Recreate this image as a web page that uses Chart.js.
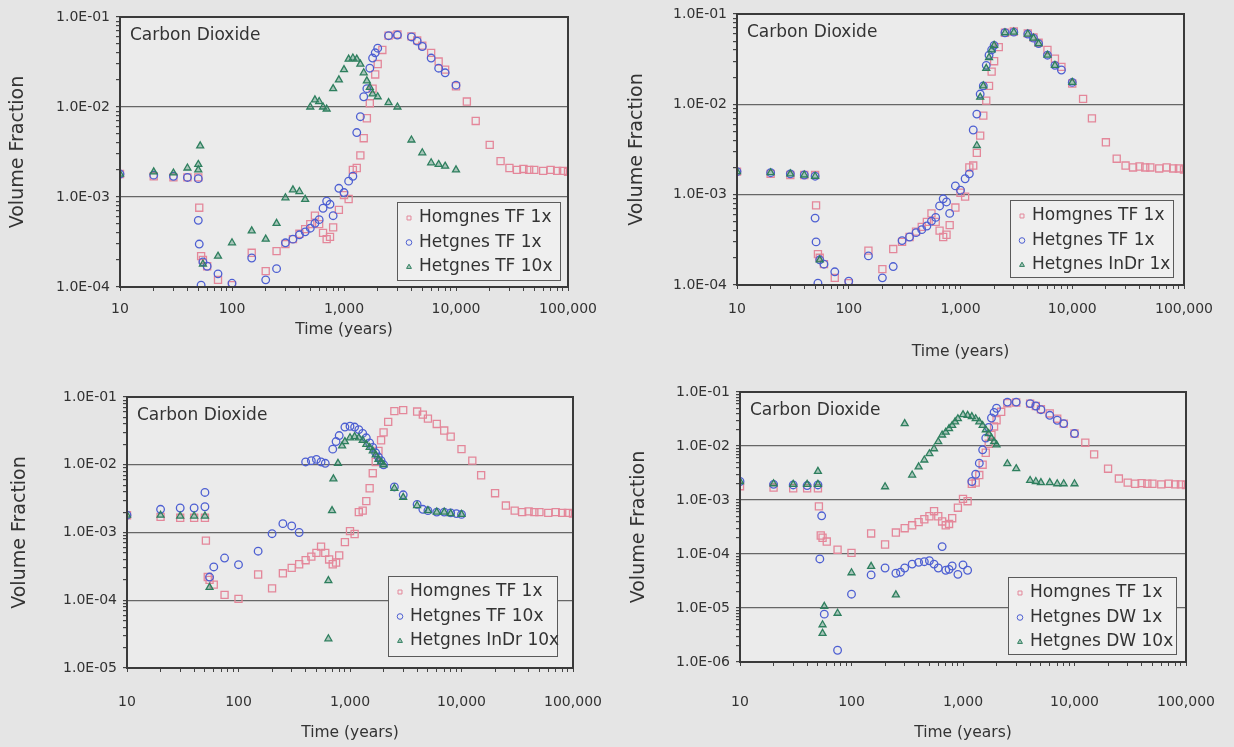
<!DOCTYPE html>
<html>
<head>
<meta charset="utf-8">
<script src="https://cdn.jsdelivr.net/npm/chart.js@4.4.1/dist/chart.umd.min.js"></script>
<style>
  body { margin: 0; background: #e5e5e5; width: 1234px; height: 747px; overflow: hidden; position: relative; }
  canvas { position: absolute; }
</style>
</head>
<body>
<canvas id="c1" width="617" height="373" style="left:0;top:0"></canvas>
<canvas id="c2" width="617" height="373" style="left:617px;top:0"></canvas>
<canvas id="c3" width="617" height="374" style="left:0;top:373px"></canvas>
<canvas id="c4" width="617" height="374" style="left:617px;top:373px"></canvas>
<script>
// --- axis ticks ---
const xTickValues = [10, 100, 1000, 10000, 100000]
const xTickLabels = ['10', '100', '1,000', '10,000', '100,000']
const yTickValues = [1e-6, 1e-5, 1e-4, 1e-3, 1e-2, 1e-1]
const yTickLabels = ['1.0E-06', '1.0E-05', '1.0E-04', '1.0E-03', '1.0E-02', '1.0E-01']

// --- Homgnes TF 1x (same run in every panel) ---
const homT = [10,20,30,40,50,51,53,55,60,75,100,150,200,250,300,350,400,450,500,550,600,650,700,750,800,900,1000,1100,1200,1300,1400,1500,1600,1700,1800,1900,2000,2200,2500,3000,4000,4500,5000,6000,7000,8000,10000,12500,15000,20000,25000,30000,35000,40000,45000,50000,60000,70000,80000,90000,100000]
const homV = [1.8e-3,1.7e-3,1.65e-3,1.65e-3,1.65e-3,7.6e-4,2.2e-4,2.0e-4,1.7e-4,1.2e-4,1.05e-4,2.4e-4,1.5e-4,2.5e-4,3.0e-4,3.4e-4,3.9e-4,4.4e-4,5.0e-4,6.2e-4,5.0e-4,4.0e-4,3.4e-4,3.6e-4,4.6e-4,7.2e-4,1.05e-3,9.5e-4,2.0e-3,2.1e-3,2.9e-3,4.5e-3,7.5e-3,1.1e-2,1.6e-2,2.3e-2,3.0e-2,4.3e-2,6.2e-2,6.4e-2,6.1e-2,5.5e-2,4.8e-2,4.0e-2,3.2e-2,2.6e-2,1.7e-2,1.15e-2,7.0e-3,3.8e-3,2.5e-3,2.1e-3,2.0e-3,2.05e-3,2.0e-3,2.0e-3,1.95e-3,2.0e-3,1.95e-3,1.95e-3,1.9e-3]

// --- Hetgnes TF 1x (panels 1 and 2) ---
const tf1T = [10,20,30,40,50,50,51,53,55,60,75,100,150,200,250,300,350,400,450,500,550,600,650,700,750,800,900,1000,1100,1200,1300,1400,1500,1600,1700,1800,1900,2000,2500,3000,4000,4500,5000,6000,7000,8000,10000]
const tf1V = [1.8e-3,1.75e-3,1.7e-3,1.65e-3,1.6e-3,5.5e-4,3.0e-4,1.05e-4,1.9e-4,1.7e-4,1.4e-4,1.1e-4,2.1e-4,1.2e-4,1.6e-4,3.1e-4,3.4e-4,3.8e-4,4.1e-4,4.5e-4,5.1e-4,5.6e-4,7.5e-4,9.0e-4,8.3e-4,6.2e-4,1.25e-3,1.12e-3,1.5e-3,1.7e-3,5.2e-3,7.8e-3,1.3e-2,1.6e-2,2.7e-2,3.5e-2,4.0e-2,4.5e-2,6.2e-2,6.3e-2,6.0e-2,5.4e-2,4.7e-2,3.5e-2,2.7e-2,2.4e-2,1.75e-2]

// --- panel 1: Hetgnes TF 10x ---
const p1tf10T = [10,20,30,40,50,50,52,55,75,100,150,200,250,300,350,400,450,500,550,600,650,700,800,900,1000,1100,1200,1300,1400,1500,1600,1700,1800,2000,2500,3000,4000,5000,6000,7000,8000,10000]
const p1tf10V = [1.8e-3,1.9e-3,1.85e-3,2.1e-3,2.3e-3,2.0e-3,3.7e-3,1.8e-4,2.2e-4,3.1e-4,4.2e-4,3.4e-4,5.1e-4,9.8e-4,1.2e-3,1.15e-3,9.4e-4,1.0e-2,1.2e-2,1.15e-2,1.0e-2,9.5e-3,1.6e-2,2.0e-2,2.6e-2,3.4e-2,3.5e-2,3.4e-2,3.0e-2,2.4e-2,1.95e-2,1.65e-2,1.4e-2,1.3e-2,1.12e-2,1.0e-2,4.3e-3,3.1e-3,2.4e-3,2.3e-3,2.2e-3,2.0e-3]

// --- panel 2: Hetgnes InDr 1x ---
const p2indrT = [10,20,30,40,50,55,1400,1500,1600,1700,1800,1900,2000,2500,3000,4000,4500,5000,6000,7000,10000]
const p2indrV = [1.8e-3,1.75e-3,1.7e-3,1.65e-3,1.6e-3,1.9e-4,3.5e-3,1.2e-2,1.6e-2,2.5e-2,3.3e-2,4.0e-2,4.5e-2,6.2e-2,6.3e-2,6.0e-2,5.4e-2,4.7e-2,3.5e-2,2.7e-2,1.75e-2]

// --- panel 3: Hetgnes TF 10x, Hetgnes InDr 10x ---
const p3tf10T = [10,20,30,40,50,50,55,60,75,100,150,200,250,300,350,400,450,500,550,600,700,750,800,900,1000,1100,1200,1300,1400,1500,1600,1700,1800,1900,2000,2500,3000,4000,4500,5000,6000,7000,8000,9000,10000]
const p3tf10V = [1.8e-3,2.2e-3,2.3e-3,2.3e-3,2.4e-3,3.9e-3,2.2e-4,3.1e-4,4.2e-4,3.35e-4,5.3e-4,9.6e-4,1.35e-3,1.25e-3,1.0e-3,1.1e-2,1.15e-2,1.2e-2,1.1e-2,1.05e-2,1.7e-2,2.2e-2,2.7e-2,3.6e-2,3.7e-2,3.6e-2,3.3e-2,2.9e-2,2.5e-2,2.1e-2,1.8e-2,1.5e-2,1.3e-2,1.15e-2,1.0e-2,4.7e-3,3.6e-3,2.6e-3,2.2e-3,2.1e-3,2.0e-3,2.0e-3,1.95e-3,1.9e-3,1.85e-3]
const p3indrT = [10,20,30,40,50,55,640,640,690,710,780,850,900,1000,1100,1200,1300,1400,1500,1600,1700,1800,1900,2000,2500,3000,4000,5000,6000,7000,8000,10000]
const p3indrV = [1.8e-3,1.8e-3,1.75e-3,1.75e-3,1.75e-3,1.55e-4,1.95e-4,2.7e-5,2.1e-3,6.2e-3,1.05e-2,1.9e-2,2.2e-2,2.5e-2,2.6e-2,2.5e-2,2.3e-2,2.0e-2,1.8e-2,1.6e-2,1.4e-2,1.2e-2,1.1e-2,1.0e-2,4.5e-3,3.3e-3,2.5e-3,2.1e-3,2.0e-3,2.0e-3,1.9e-3,1.85e-3]

// --- panel 4: Hetgnes DW 1x, Hetgnes DW 10x ---
const p4dw1T = [10,20,30,40,50,52,54,57,75,100,150,200,250,275,300,350,400,450,500,550,600,650,700,750,800,900,1000,1100,1200,1300,1400,1500,1600,1700,1800,1900,2000,2500,3000,4000,4500,5000,6000,7000,8000,10000]
const p4dw1V = [2.2e-3,1.95e-3,1.9e-3,1.85e-3,1.9e-3,8.1e-5,5.1e-4,7.7e-6,1.65e-6,1.8e-5,4.1e-5,5.5e-5,4.4e-5,4.6e-5,5.5e-5,6.5e-5,7.0e-5,7.2e-5,7.5e-5,6.5e-5,5.5e-5,1.37e-4,5.0e-5,5.2e-5,6.0e-5,4.2e-5,6.3e-5,5.0e-5,2.2e-3,3.0e-3,4.8e-3,8.5e-3,1.4e-2,2.2e-2,3.3e-2,4.2e-2,5.0e-2,6.5e-2,6.5e-2,6.1e-2,5.5e-2,4.7e-2,3.7e-2,3.0e-2,2.6e-2,1.7e-2]
const p4dw10T = [10,20,30,40,50,50,55,55,57,75,100,150,200,250,300,350,400,450,500,550,600,650,700,750,800,850,900,1000,1100,1200,1300,1400,1500,1600,1700,1800,1900,2000,2500,3000,4000,4500,5000,6000,7000,8000,10000]
const p4dw10V = [2.2e-3,2.0e-3,1.95e-3,1.95e-3,1.95e-3,3.4e-3,4.9e-6,3.4e-6,1.07e-5,8.0e-6,4.5e-5,5.9e-5,1.76e-3,1.75e-5,2.6e-2,2.9e-3,4.1e-3,5.5e-3,7.2e-3,8.9e-3,1.2e-2,1.6e-2,1.8e-2,2.1e-2,2.4e-2,2.8e-2,3.2e-2,3.8e-2,3.7e-2,3.5e-2,3.2e-2,2.8e-2,2.4e-2,2.0e-2,1.7e-2,1.4e-2,1.2e-2,1.05e-2,4.7e-3,3.8e-3,2.3e-3,2.2e-3,2.1e-3,2.1e-3,2.0e-3,2.0e-3,2.0e-3]

const FONT = "'DejaVu Sans', sans-serif"
const TEXT = '#333333'

// marker looks: pink squares, blue circles, green triangles
const markers = [
  { pointStyle: 'rect', radius: 5, border: '#e4879a', fill: 'rgba(0,0,0,0)' },
  { pointStyle: 'circle', radius: 3.8, border: '#4d5fd2', fill: 'rgba(0,0,0,0)' },
  { pointStyle: 'triangle', radius: 4, border: '#2e7f5e', fill: 'rgba(46,127,94,0.35)' }
]

const panels = [
  { id: 'c1', left: 0, top: 0, w: 617, h: 373, plot: { l: 120, t: 17, r: 568, b: 287 }, yMin: 1e-4,
    xTickPad: 10, xTitleCenter: 330, yTitleCenter: 18, legend: { r: 8, b: 7, w: 163, h: 78 },
    series: [['Homgnes TF 1x', homT, homV], ['Hetgnes TF 1x', tf1T, tf1V], ['Hetgnes TF 10x', p1tf10T, p1tf10V]] },
  { id: 'c2', left: 617, top: 0, w: 617, h: 373, plot: { l: 737, t: 14, r: 1184, b: 285 }, yMin: 1e-4,
    xTickPad: 12, xTitleCenter: 352, yTitleCenter: 20, legend: { r: 11, b: 8, w: 163, h: 77 },
    series: [['Homgnes TF 1x', homT, homV], ['Hetgnes TF 1x', tf1T, tf1V], ['Hetgnes InDr 1x', p2indrT, p2indrV]] },
  { id: 'c3', left: 0, top: 373, w: 617, h: 374, plot: { l: 127, t: 397, r: 573, b: 668 }, yMin: 1e-5,
    xTickPad: 22, xTitleCenter: 733, yTitleCenter: 20, legend: { r: 16, b: 12, w: 169, h: 80 },
    series: [['Homgnes TF 1x', homT, homV], ['Hetgnes TF 10x', p3tf10T, p3tf10V], ['Hetgnes InDr 10x', p3indrT, p3indrV]] },
  { id: 'c4', left: 617, top: 373, w: 617, h: 374, plot: { l: 740, t: 392, r: 1186, b: 662 }, yMin: 1e-6,
    xTickPad: 28, xTitleCenter: 733, yTitleCenter: 22, legend: { r: 10, b: 8, w: 168, h: 77 },
    series: [['Homgnes TF 1x', homT, homV], ['Hetgnes DW 1x', p4dw1T, p4dw1V], ['Hetgnes DW 10x', p4dw10T, p4dw10V]] }
]

function isDecade(v) {
  const e = Math.log10(v)
  return Math.abs(e - Math.round(e)) < 1e-9
}

// major ticks plus 2..9 minor ticks between them
function logTicks(majors) {
  const out = []
  for (let i = 0; i < majors.length; i++) {
    out.push({ value: majors[i], major: true })
    if (i < majors.length - 1) {
      for (let k = 2; k <= 9; k++) out.push({ value: majors[i] * k, major: false })
    }
  }
  return out
}

function drawMarker(ctx, style, x, y, r) {
  ctx.beginPath()
  if (style === 'rect') {
    const s = r * Math.SQRT1_2
    ctx.rect(x - s, y - s, 2 * s, 2 * s)
  } else if (style === 'circle') {
    ctx.arc(x, y, r, 0, Math.PI * 2)
  } else {
    ctx.moveTo(x, y - r)
    ctx.lineTo(x + r * 0.866, y + r * 0.5)
    ctx.lineTo(x - r * 0.866, y + r * 0.5)
    ctx.closePath()
  }
  ctx.fill()
  ctx.stroke()
}

// plot background, frame, panel title and the boxed legend
const framePlugin = {
  id: 'frame',
  beforeDraw(chart) {
    const a = chart.chartArea, ctx = chart.ctx
    ctx.save()
    ctx.fillStyle = '#ebebeb'
    ctx.fillRect(a.left, a.top, a.right - a.left, a.bottom - a.top)
    ctx.restore()
  },
  afterDatasetsDraw(chart, args, opts) {
    const a = chart.chartArea, ctx = chart.ctx
    ctx.save()
    ctx.strokeStyle = '#3a3a3a'
    ctx.lineWidth = 2
    ctx.strokeRect(a.left, a.top, a.right - a.left, a.bottom - a.top)

    ctx.fillStyle = TEXT
    ctx.font = '17px ' + FONT
    ctx.textBaseline = 'middle'
    ctx.textAlign = 'left'
    ctx.fillText('Carbon Dioxide', a.left + 10, a.top + 19)

    const lg = opts.box
    const bx = a.right - lg.r - lg.w, by = a.bottom - lg.b - lg.h
    ctx.fillStyle = '#efefef'
    ctx.fillRect(bx, by, lg.w, lg.h)
    ctx.strokeStyle = '#5a5a5a'
    ctx.lineWidth = 1
    ctx.strokeRect(bx + 0.5, by + 0.5, lg.w, lg.h)
    chart.data.datasets.forEach((ds, i) => {
      const cy = by + 16 + i * 24.5
      const m = markers[i]
      ctx.strokeStyle = m.border
      ctx.fillStyle = m.fill
      ctx.lineWidth = 1
      drawMarker(ctx, m.pointStyle, bx + 12, cy, 2.8)
      ctx.fillStyle = TEXT
      ctx.font = '17px ' + FONT
      ctx.fillText(ds.label, bx + 22, cy)
    })
    ctx.restore()
  }
}

panels.forEach(p => {
  const datasets = p.series.map(([label, t, v], i) => ({
    label,
    data: t.map((x, k) => ({ x, y: v[k] })),
    pointStyle: markers[i].pointStyle,
    pointRadius: markers[i].radius,
    pointBorderWidth: 1.3,
    borderColor: markers[i].border,
    backgroundColor: markers[i].fill,
    showLine: false,
    order: 3 - i
  }))
  const yMajors = yTickValues.filter(v => v >= p.yMin * 0.999)
  const labelOf = (vals, labels, v) => {
    const k = vals.findIndex(t => Math.abs(Math.log10(t) - Math.log10(v)) < 1e-6)
    return k >= 0 ? labels[k] : ''
  }
  new Chart(document.getElementById(p.id), {
    type: 'scatter',
    data: { datasets },
    plugins: [framePlugin],
    options: {
      responsive: false,
      animation: false,
      layout: { padding: { left: 0, top: p.plot.t - p.top, right: p.left + p.w - p.plot.r, bottom: 0 } },
      plugins: {
        legend: { display: false },
        tooltip: { enabled: false },
        frame: { box: p.legend }
      },
      scales: {
        x: {
          type: 'logarithmic',
          min: 10, max: 100000,
          afterBuildTicks: s => { s.ticks = logTicks(xTickValues) },
          // fixed axis band; no extra side padding so the plot box stays put
          afterFit: s => { s.height = p.top + p.h - p.plot.b; s.paddingLeft = 0; s.paddingRight = 0 },
          border: { display: false },
          grid: { drawOnChartArea: false, tickLength: 4, tickColor: '#444', lineWidth: 1 },
          ticks: {
            autoSkip: false, maxRotation: 0, minRotation: 0, padding: p.xTickPad,
            color: TEXT, font: { family: FONT, size: 14 },
            callback: v => labelOf(xTickValues, xTickLabels, v)
          },
          title: {
            display: true, text: 'Time (years)', color: TEXT,
            font: { family: FONT, size: 15.5 },
            padding: { top: 0, bottom: p.top + p.h - p.xTitleCenter - 9.3 }
          }
        },
        y: {
          type: 'logarithmic',
          min: p.yMin, max: 0.1,
          afterBuildTicks: s => { s.ticks = logTicks(yMajors) },
          afterFit: s => { s.width = p.plot.l - p.left; s.paddingTop = 0; s.paddingBottom = 0 },
          border: { display: false },
          grid: {
            tickLength: 4, tickColor: '#444', lineWidth: 1.2,
            color: c => (c.tick && isDecade(c.tick.value)) ? '#666666' : 'rgba(0,0,0,0)'
          },
          ticks: {
            autoSkip: false, padding: 6,
            color: TEXT, font: { family: FONT, size: 14 },
            callback: v => labelOf(yTickValues, yTickLabels, v)
          },
          title: {
            display: true, text: 'Volume Fraction', color: TEXT,
            font: { family: FONT, size: 19 },
            padding: { top: p.yTitleCenter - 11.4, bottom: 0 }
          }
        }
      }
    }
  })
})
</script>
</body>
</html>
